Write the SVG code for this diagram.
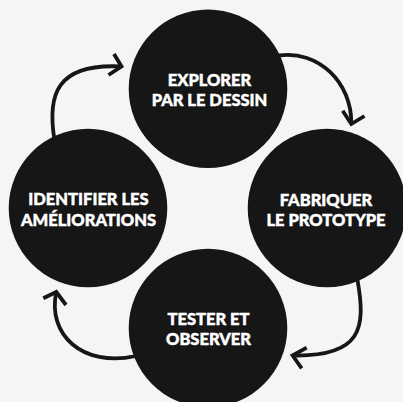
<svg xmlns="http://www.w3.org/2000/svg" width="403" height="402" viewBox="0 0 403 402">
  <defs>
    <style>
      .bg { fill: #f4f5f4; }
      .node circle { fill: #161616; }
      .node text { fill: #ffffff; stroke: #ffffff; stroke-width: 0.45; font-family: Lato, "Open Sans", "Liberation Sans", sans-serif; font-weight: 900; font-size: 16.5px; text-anchor: middle; }
      .link { fill: none; stroke: #161616; stroke-width: 3.8; stroke-linecap: butt; stroke-linejoin: miter; }
    </style>
  </defs>

  <rect class="bg" x="0" y="0" width="403" height="402"/>

  <!-- curved arrows running clockwise between the four steps -->
  <g id="connectors">
    <path class="link" d="M 54.5 140 C 47 95, 56 63, 121.5 66.5"/>
    <polyline class="link" points="114,54 121.5,66.5 108.5,75"/>

    <path class="link" d="M 279 55.5 C 318 50, 352 82, 351.3 124"/>
    <polyline class="link" points="342.7,110.7 351.3,124 364.5,116"/>

    <path class="link" d="M 357.5 280 C 366 328, 362 357, 292.6 355.5"/>
    <polyline class="link" points="306.7,347.7 292.6,355.5 301.7,368.3"/>

    <path class="link" d="M 136 356 C 82 368, 47 334, 56.3 292"/>
    <polyline class="link" points="43.3,298.3 56.3,292 66,305"/>
  </g>

  <g id="explorer" class="node">
    <circle cx="208" cy="88.8" r="79.3"/>
    <text x="209.5" y="86.3">EXPLORER</text>
    <text x="209.5" y="106.3">PAR LE DESSIN</text>
  </g>

  <g id="fabriquer" class="node">
    <circle cx="327" cy="208" r="79.3"/>
    <text x="326" y="206.3">FABRIQUER</text>
    <text x="326" y="225.7">LE PROTOTYPE</text>
  </g>

  <g id="tester" class="node">
    <circle cx="208" cy="328" r="79.3"/>
    <text x="208.5" y="325">TESTER ET</text>
    <text x="208.5" y="345">OBSERVER</text>
  </g>

  <g id="identifier" class="node">
    <circle cx="88" cy="208" r="79.3"/>
    <text x="88.5" y="205">IDENTIFIER LES</text>
    <text x="88.5" y="225.7">AMÉLIORATIONS</text>
  </g>
</svg>
